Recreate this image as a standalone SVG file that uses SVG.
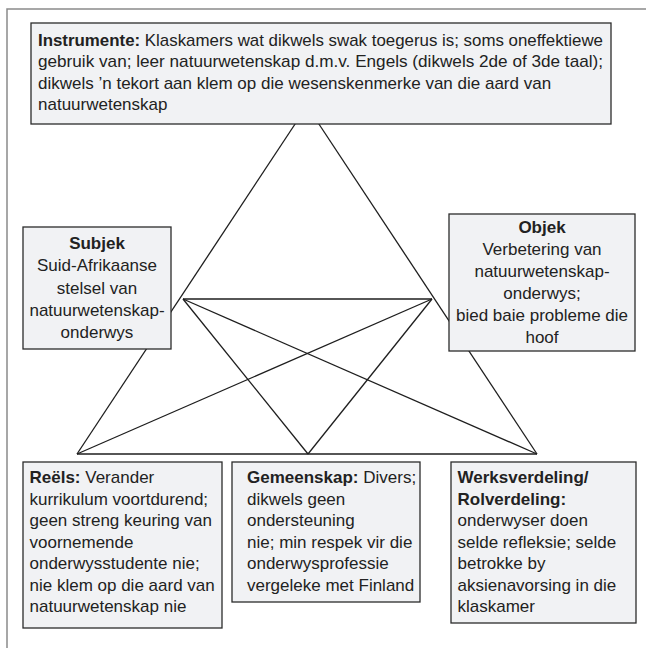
<svg xmlns="http://www.w3.org/2000/svg" width="646" height="648" viewBox="0 0 646 648">
<style>
.box{fill:#f1f2f4;stroke:#2b2b2b;stroke-width:1.3}
.ln{stroke:#1e1e1e;stroke-width:1.3;fill:none}
text{font-family:"Liberation Sans",Arial,sans-serif;font-size:17px;fill:#222}
.b{font-weight:bold}
.c{text-anchor:middle}
</style>
<rect width="646" height="648" fill="#fff"/>
<path d="M7 648 V9 H646" fill="none" stroke="#8a8a8a" stroke-width="1.5"/>
<g id="connectors" class="ln">
<line x1="307" y1="106" x2="77" y2="454"/>
<line x1="307" y1="106" x2="537" y2="454"/>
<line x1="77" y1="454" x2="537" y2="454"/>
<line x1="183" y1="299" x2="432" y2="299"/>
<line x1="183" y1="299" x2="308" y2="454"/>
<line x1="183" y1="299" x2="537" y2="454"/>
<line x1="432" y1="299" x2="308" y2="454"/>
<line x1="432" y1="299" x2="77" y2="454"/>
</g>
<g id="instrumente">
<rect class="box" x="31" y="23" width="580" height="101"/>
<text x="38" y="45.5" textLength="565" lengthAdjust="spacingAndGlyphs"><tspan class="b">Instrumente:</tspan> Klaskamers wat dikwels swak toegerus is; soms oneffektiewe</text>
<text x="38" y="67" textLength="565" lengthAdjust="spacingAndGlyphs">gebruik van; leer natuurwetenskap d.m.v. Engels (dikwels 2de of 3de taal);</text>
<text x="38" y="88.5">dikwels ’n tekort aan klem op die wesenskenmerke van die aard van</text>
<text x="38" y="110">natuurwetenskap</text>
</g>
<g id="subjek">
<rect class="box" x="23" y="227" width="148" height="122"/>
<text class="c b" x="97" y="249">Subjek</text>
<text class="c" x="97" y="271">Suid-Afrikaanse</text>
<text class="c" x="97" y="293.5">stelsel van</text>
<text class="c" x="97" y="315.5">natuurwetenskap-</text>
<text class="c" x="97" y="337.5">onderwys</text>
</g>
<g id="objek">
<rect class="box" x="449" y="214" width="186" height="137"/>
<text class="c b" x="542" y="233">Objek</text>
<text class="c" x="542" y="255">Verbetering van</text>
<text class="c" x="542" y="277">natuurwetenskap-</text>
<text class="c" x="542" y="299">onderwys;</text>
<text class="c" x="542" y="321">bied baie probleme die</text>
<text class="c" x="542" y="343">hoof</text>
</g>
<g id="reels">
<rect class="box" x="23" y="462" width="199" height="166"/>
<text x="29.5" y="483"><tspan class="b">Reëls:</tspan> Verander</text>
<text x="29.5" y="504.5">kurrikulum voortdurend;</text>
<text x="29.5" y="526">geen streng keuring van</text>
<text x="29.5" y="547.5">voornemende</text>
<text x="29.5" y="569">onderwysstudente nie;</text>
<text x="29.5" y="590.5">nie klem op die aard van</text>
<text x="29.5" y="612">natuurwetenskap nie</text>
</g>
<g id="gemeenskap">
<rect class="box" x="232" y="462" width="188" height="140"/>
<text x="247" y="483"><tspan class="b">Gemeenskap:</tspan> Divers;</text>
<text x="247" y="504.5">dikwels geen</text>
<text x="247" y="526">ondersteuning</text>
<text x="247" y="547.5">nie; min respek vir die</text>
<text x="247" y="569">onderwysprofessie</text>
<text x="247" y="590.5">vergeleke met Finland</text>
</g>
<g id="werksverdeling">
<rect class="box" x="451" y="462" width="185" height="161"/>
<text class="b" x="457.5" y="483">Werksverdeling/</text>
<text class="b" x="457.5" y="504.5">Rolverdeling:</text>
<text x="457.5" y="526">onderwyser doen</text>
<text x="457.5" y="547.5">selde refleksie; selde</text>
<text x="457.5" y="569">betrokke by</text>
<text x="457.5" y="590.5">aksienavorsing in die</text>
<text x="457.5" y="612">klaskamer</text>
</g>
</svg>
